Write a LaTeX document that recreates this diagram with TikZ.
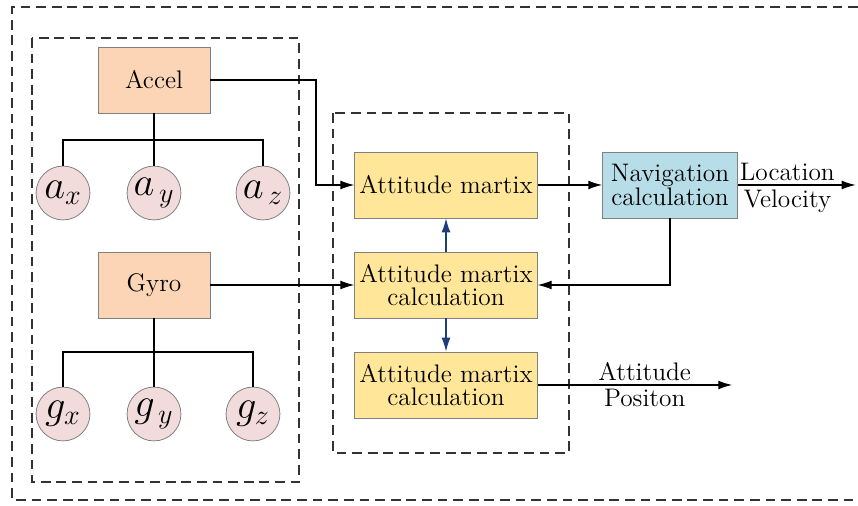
\documentclass[tikz,border=0pt]{standalone}
\usepackage{xcolor}
\usetikzlibrary{arrows.meta, positioning}

\definecolor{sensorfill}{HTML}{FBD5B5}
\definecolor{axisfill}{HTML}{F2DCDB}
\definecolor{attfill}{HTML}{FFE699}
\definecolor{navfill}{HTML}{B7DEE8}
\definecolor{edgegray}{HTML}{808080}
\definecolor{navyline}{HTML}{1F3D7A}

\begin{document}
\begin{tikzpicture}[
    x=0.018cm, y=-0.018cm,
    sensor/.style={draw=edgegray, fill=sensorfill, minimum width=2.016cm, minimum height=1.188cm,
                   inner sep=0pt},
    axis/.style={draw=edgegray, circle, fill=axisfill, minimum size=0.97cm, inner sep=0pt, font=\huge},
    attbox/.style={draw=edgegray, fill=attfill, minimum width=3.29cm, minimum height=1.188cm,
                   align=center, inner sep=0pt},
    navbox/.style={draw=edgegray, fill=navfill, minimum width=2.43cm, minimum height=1.188cm,
                   align=center, inner sep=0pt},
    frame/.style={dash pattern=on 5pt off 3pt, semithick, black!80},
    arr/.style={-{Latex[length=2.5mm, width=1.6mm]}, semithick},
    barr/.style={-{Latex[length=2.5mm, width=1.6mm]}, semithick, navyline},
    lbl/.style={inner sep=2pt},
    font=\fontsize{13}{14}\selectfont
]
    \useasboundingbox (0,0) rectangle (858,506);

    % dashed frames
    \draw[frame] (858,7) -- (12,7) -- (12,500) -- (858,500);
    \draw[frame] (32,38) rectangle (299,482);
    \draw[frame] (333,113) rectangle (569,453);

    % sensors
    \node[sensor] (accel) at (154,80) {Accel};
    \node[axis] (ax) at (63,193) {$a_{x}$};
    \node[axis] (ay) at (154,193) {$a_{\,y}$};
    \node[axis] (az) at (263,193) {$a_{\,z}$};

    \node[sensor] (gyro) at (154,285) {Gyro};
    \node[axis] (gx) at (63,414) {$g_{x}$};
    \node[axis] (gy) at (154,414) {$g_{\,y}$};
    \node[axis] (gz) at (253,414) {$g_{z}$};

    % attitude chain
    \node[attbox] (att1) at (446,185) {Attitude martix};
    \node[attbox] (att2) at (446,285) {Attitude martix\\[-2pt]calculation};
    \node[attbox] (att3) at (446,385) {Attitude martix\\[-2pt]calculation};
    \node[navbox] (nav) at (670,185) {Navigation\\[-2pt]calculation};

    \coordinate (brA) at (154,140);
    \coordinate (brG) at (154,352);
    \coordinate (bendA) at (316,80);
    \coordinate[right=2.12cm of nav.east] (outLV);
    \coordinate[right=3.5cm of att3.east] (outAP);

    % trees
    \draw[semithick] (accel) -- (ay);
    \draw[semithick] (ax.north) -- (ax.north |- brA) -| (az.north);
    \draw[semithick] (gyro) -- (gy);
    \draw[semithick] (gx.north) -- (gx.north |- brG) -| (gz.north);

    % connectors
    \draw[arr] (accel.east) -- (bendA) |- (att1.west);
    \draw[arr] (gyro) -- (att2);
    \draw[arr] (att1) -- (nav);
    \draw[arr] (nav.south) |- (att2.east);
    \draw[barr] (att2) -- (att1);
    \draw[barr] (att2) -- (att3);
    \draw[arr] (nav.east) -- node[lbl, pos=0.42, above]{Location} node[lbl, pos=0.42, below]{Velocity} (outLV);
    \draw[arr] (att3.east) -- node[lbl, pos=0.55, above]{Attitude} node[lbl, pos=0.55, below]{Positon} (outAP);
\end{tikzpicture}
\end{document}
